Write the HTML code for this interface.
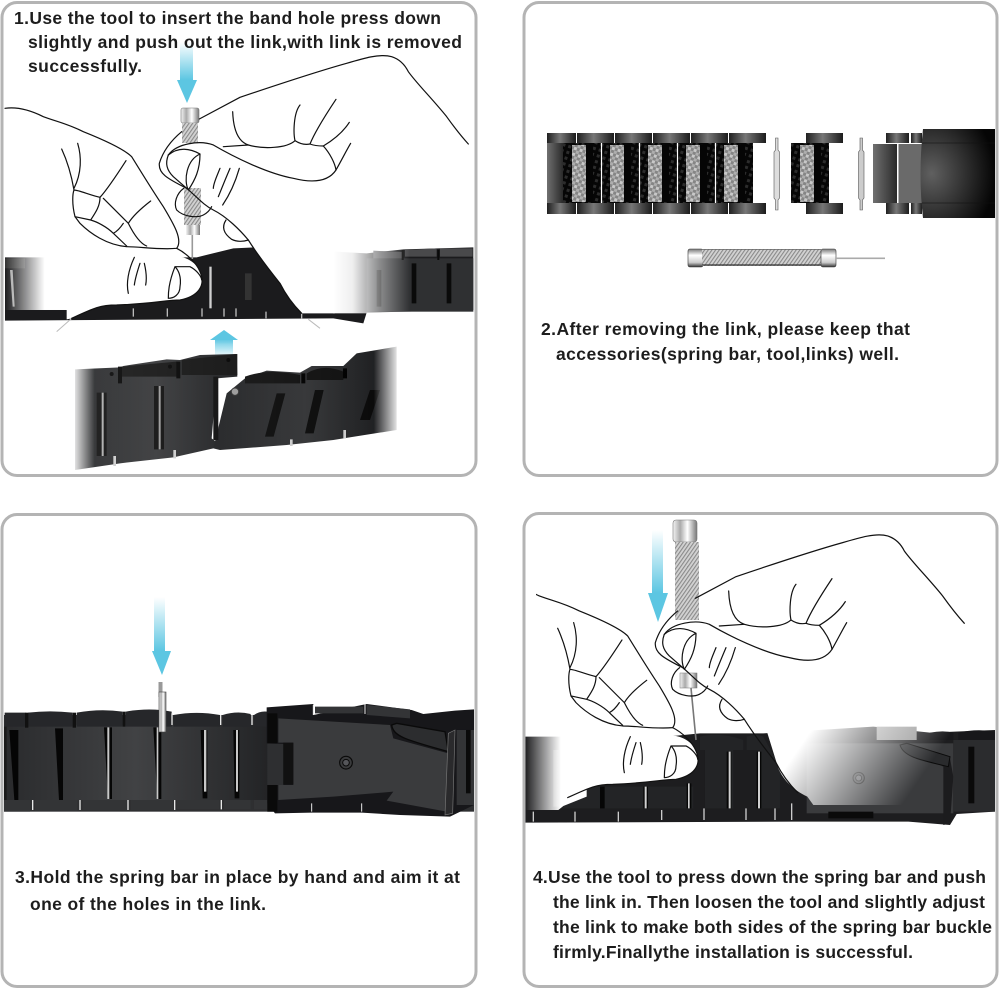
<!DOCTYPE html>
<html><head><meta charset="utf-8"><style>
html,body{margin:0;padding:0;background:#fff}
svg{display:block}
text{font-family:"Liberation Sans",Arial,sans-serif;font-size:17.5px;font-weight:bold;fill:#1d1d1d}
.h{fill:none;stroke:#111;stroke-width:3.6;stroke-linecap:round;stroke-linejoin:round}
</style></head><body>
<svg width="1000" height="990" viewBox="0 0 1000 990" xmlns="http://www.w3.org/2000/svg">
<defs>
<clipPath id="p4clip"><rect x="536" y="500" width="470" height="400"/></clipPath>
<pattern id="knurl" width="3" height="3" patternUnits="userSpaceOnUse" patternTransform="rotate(35)"><rect width="3" height="3" fill="#d2d2d2"/><rect width="1.1" height="3" fill="#8a8a8a"/></pattern>
<pattern id="chkL" width="6" height="6" patternUnits="userSpaceOnUse" patternTransform="rotate(18)"><rect width="6" height="6" fill="#858585"/><rect width="3" height="3" fill="#c8c8c8"/><rect x="3" y="3" width="3" height="3" fill="#aeaeae"/></pattern>
<pattern id="chkD" width="6" height="6" patternUnits="userSpaceOnUse" patternTransform="rotate(18)"><rect width="6" height="6" fill="#060606"/><rect width="3" height="3" fill="#2c2c2c"/></pattern>
<linearGradient id="arD" x1="0" y1="0" x2="0" y2="1"><stop offset="0" stop-color="#5cc6e2" stop-opacity="0"/><stop offset="1" stop-color="#5cc6e2"/></linearGradient>
<linearGradient id="arU" x1="0" y1="0" x2="0" y2="1"><stop offset="0" stop-color="#5cc6e2"/><stop offset="1" stop-color="#5cc6e2" stop-opacity=".1"/></linearGradient>
<linearGradient id="fadeL" x1="0" y1="0" x2="1" y2="0"><stop offset="0" stop-color="#fff" stop-opacity="0"/><stop offset=".58" stop-color="#fff"/><stop offset="1" stop-color="#fff"/></linearGradient>
<linearGradient id="fadeR" x1="0" y1="0" x2="1" y2="0"><stop offset="0" stop-color="#fff"/><stop offset=".25" stop-color="#fff" stop-opacity=".93"/><stop offset=".6" stop-color="#fff" stop-opacity=".45"/><stop offset="1" stop-color="#fff" stop-opacity="0"/></linearGradient>
<linearGradient id="fadeDiag" gradientUnits="userSpaceOnUse" x1="860" y1="680" x2="1150" y2="880"><stop offset="0" stop-color="#fff"/><stop offset="1" stop-color="#fff" stop-opacity="0"/></linearGradient>
<linearGradient id="fadeLow" x1="0" y1="0" x2="1" y2="0"><stop offset="0" stop-color="#fff"/><stop offset=".07" stop-color="#fff" stop-opacity=".1"/><stop offset=".92" stop-color="#fff" stop-opacity="0"/><stop offset="1" stop-color="#fff"/></linearGradient>
<linearGradient id="metalH" x1="0" y1="0" x2="1" y2="0"><stop offset="0" stop-color="#f4f4f4"/><stop offset=".3" stop-color="#aaa"/><stop offset=".6" stop-color="#fff"/><stop offset="1" stop-color="#777"/></linearGradient>
<linearGradient id="metalV" x1="0" y1="0" x2="0" y2="1"><stop offset="0" stop-color="#777"/><stop offset=".35" stop-color="#fff"/><stop offset=".75" stop-color="#ccc"/><stop offset="1" stop-color="#333"/></linearGradient>
<linearGradient id="gLink" x1="0" y1="0" x2="1" y2="0"><stop offset="0" stop-color="#202020"/><stop offset=".45" stop-color="#777"/><stop offset="1" stop-color="#1c1c1c"/></linearGradient>
<linearGradient id="gSide" x1="0" y1="0" x2="1" y2="0"><stop offset="0" stop-color="#707070"/><stop offset="1" stop-color="#2a2a2a"/></linearGradient>
<radialGradient id="gClasp" cx=".15" cy=".5" r=".85"><stop offset="0" stop-color="#606060"/><stop offset=".55" stop-color="#2e2e2e"/><stop offset="1" stop-color="#050505"/></radialGradient>
<linearGradient id="gBand" x1="0" y1="0" x2="1" y2="0"><stop offset="0" stop-color="#2a2b2d"/><stop offset=".5" stop-color="#414244"/><stop offset="1" stop-color="#232426"/></linearGradient>
<linearGradient id="gBandD" x1="0" y1="0" x2="1" y2="0"><stop offset="0" stop-color="#1e1f21"/><stop offset=".5" stop-color="#333436"/><stop offset="1" stop-color="#1a1b1d"/></linearGradient>

<g id="cell">
<rect width="38" height="60" fill="url(#chkD)"/>
<rect x="9" y="2" width="14" height="57" fill="url(#chkL)"/>
<rect x="23" y="2" width="7" height="57" fill="#050505"/>
</g>

<g id="hands">
<path d="M200,770 L540,770 C565,775 590,790 600,815 C620,860 590,890 540,900 C500,900 450,912 350,915 C300,915 280,925 215,955 L200,958 Z" fill="#fff"/>
<path class="h" d="M598,357 L720,292 C800,265 950,215 1040,190 C1090,175 1140,160 1175,170 C1200,178 1215,195 1225,215 C1250,250 1300,300 1340,350 C1365,385 1385,410 1405,432"/>
<path class="h" d="M698,335 C700,390 715,425 745,435 C790,448 860,445 885,422 C880,400 880,340 900,315"/>
<path class="h" d="M885,422 C900,432 915,435 930,432 C945,395 980,340 1008,298"/>
<path class="h" d="M930,432 C945,438 960,438 970,438 C1000,420 1030,395 1048,367"/>
<path class="h" d="M970,438 C990,460 1005,490 1008,510 C1025,480 1040,450 1052,430"/>
<path class="h" d="M670,440 L745,435"/>
<path class="h" d="M545,395 C515,420 490,450 478,490 C475,520 500,535 560,565 C590,590 610,615 640,630 C680,650 720,690 745,720 C770,760 800,800 840,850 C855,880 880,915 905,940"/>
<path class="h" d="M505,465 C530,430 600,420 640,435 C700,470 800,520 880,535 C940,550 985,545 1008,510"/>
<path class="h" d="M505,465 C495,490 500,510 520,530 L560,565"/>
<path class="h" d="M505,465 C535,440 570,445 600,462 C560,480 550,540 565,570 C585,540 600,510 600,462"/>
<path class="h" d="M660,505 C650,530 640,550 640,565 M690,505 C675,540 665,565 655,590 M718,505 C705,550 685,590 668,615"/>
<path class="h" d="M551,565 C530,580 520,610 530,630 C550,650 590,655 610,645 C620,640 630,630 635,620"/>
<path class="h" d="M678,660 C665,680 670,700 695,718 C710,726 730,725 745,720"/>
<path class="h" d="M15,325 C50,320 90,330 130,350 C170,365 200,370 250,395 C300,415 370,445 395,470 C420,510 450,560 490,620 C520,670 550,720 530,745 C480,750 420,740 380,740 C320,735 270,700 240,670 L225,650 C215,610 218,580 222,570 C235,570 270,585 300,592 C320,570 360,510 378,482"/>
<path class="h" d="M185,447 C205,490 215,530 222,570 M233,430 C245,470 245,520 222,565"/>
<path class="h" d="M300,592 C300,620 285,640 272,660 L225,650 M310,595 L385,670 C400,700 420,730 440,738 M385,670 C400,645 430,620 452,603 M370,670 C360,685 350,695 340,700 M272,660 C290,665 320,680 340,700 L380,738"/>
<path class="h" d="M530,745 C560,760 590,790 600,815 C620,860 590,890 540,900 C500,900 450,912 350,915 C300,915 280,925 215,955"/>
<path class="h" d="M525,800 C505,850 505,880 505,895 C520,895 540,885 540,860 C545,830 535,810 525,800 L570,800 C590,810 605,830 605,840"/>
<path class="h" d="M403,772 C385,810 378,850 385,880 M420,790 C410,820 405,840 403,855 M433,790 C440,820 440,840 437,855"/>
</g>
</defs>
<rect width="1000" height="990" fill="#fff"/>

<!-- PANEL 1 band -->
<g transform="scale(.33333)">
<path d="M15,772 L590,772 L700,745 L770,742 L1100,760 L1210,748 L1420,742 L1420,930 L1100,938 L1090,970 L1000,955 L15,962 Z" fill="#1b1b1d"/>
<rect x="1100" y="775" width="320" height="160" fill="#2f3032"/>
<path d="M1130,810h14v110h-14zM1235,790h14v120h-14zM1340,790h14v120h-14zM1205,750h6v30h-6zM1312,750h6v30h-6z" fill="#0a0a0a"/>
<path d="M1120,752L1205,756V775H1120ZM1215,750L1310,745V770H1215ZM1320,745L1418,745V770H1320Z" fill="#49494b"/>
<path d="M30,810l8,110h6l-6-110zM140,810l8,110h6l-6-110z" fill="#aaa"/>
<rect x="15" y="775" width="60" height="30" fill="#333"/>
<rect x="628" y="800" width="7" height="125" fill="#cfcfcf"/>
<path d="M735,820h20v80h-20z" fill="#333"/>
<path d="M400,925v25M502,925v25M606,925v25M672,925v25M708,925v25M798,935v20M905,935v20" stroke="#bbb" stroke-width="4"/>
<rect x="15" y="765" width="205" height="165" fill="url(#fadeL)"/>
<path d="M745,720 C770,760 800,800 840,850 C855,880 880,915 905,940 L1004,940 L1004,700 Z" fill="#fff"/>
<rect x="1000" y="700" width="230" height="240" fill="url(#fadeR)"/>
<path d="M170,995 L215,955 M925,958 L960,985" stroke="#bbb" stroke-width="3" fill="none"/>
</g>

<!-- arrows -->
<rect x="180" y="42" width="13" height="38" fill="url(#arD)"/>
<path d="M177,80H197L187,103Z" fill="#5cc6e2"/>
<rect x="215" y="339" width="18" height="17" fill="url(#arU)"/>
<path d="M210,340L224,330L238,340Z" fill="#5cc6e2"/>
<rect x="154" y="597" width="11" height="54" fill="url(#arD)"/>
<path d="M152,651H171L162,675Z" fill="#5cc6e2"/>
<rect x="652" y="530" width="11" height="63" fill="url(#arD)"/>
<path d="M648,593H668L658,622Z" fill="#5cc6e2"/>

<!-- P1 tool -->
<rect x="181" y="108" width="18" height="15" rx="2" fill="url(#metalH)" stroke="#777" stroke-width=".6"/>
<rect x="182" y="123" width="16" height="20" fill="url(#knurl)"/>
<rect x="184" y="188" width="17" height="37" fill="url(#knurl)"/>
<rect x="186" y="225" width="14" height="10" fill="url(#metalH)"/>
<rect x="191.5" y="235" width="1.6" height="24" fill="#999"/>
<use href="#hands" transform="scale(.33333)"/>

<!-- P1 lower band -->
<g transform="scale(.33333)">
<path d="M225,1108 L360,1102 L370,1098 L500,1078 L540,1080 L600,1065 L710,1062 L712,1130 L650,1135 L635,1315 L655,1330 L640,1345 L520,1372 L360,1390 L225,1410 Z" fill="url(#gBandD)"/>
<path d="M680,1180 L735,1135 L800,1112 L900,1118 L935,1098 L1030,1098 L1070,1060 L1190,1040 L1190,1290 L1030,1315 L1000,1320 L860,1335 L660,1350 L640,1345 Z" fill="url(#gBandD)"/>
<path d="M290,1178h30v190h-30zM462,1158h30v190h-30zM640,1130h15v190h-15z" fill="#0b0b0b"/>
<rect x="305" y="1178" width="6" height="190" fill="#aaa"/>
<rect x="476" y="1158" width="6" height="190" fill="#999"/>
<path d="M830,1180l26,0l-35,130h-26zM945,1170l26,0l-30,130h-26zM1110,1170l30,0l-30,90h-30z" fill="#0b0b0b"/>
<path d="M365,1100L530,1085V1130H365ZM545,1080L712,1062V1125H545ZM735,1130Q800,1105 900,1125V1150H735ZM920,1120Q970,1090 1030,1115V1140H920Z" fill="#111"/>
<path d="M360,1100v50M535,1085v50M910,1120v30M1035,1105v30" stroke="#000" stroke-width="12"/>
<circle cx="705" cy="1175" r="11" fill="#999" stroke="#333" stroke-width="3"/>
<circle cx="335" cy="1122" r="6" fill="#000"/><circle cx="510" cy="1100" r="6" fill="#000"/><circle cx="685" cy="1080" r="6" fill="#000"/>
<path d="M340,1368h8v30h-8zM520,1350h8v25h-8zM870,1318h8v20h-8zM1030,1290h8v25h-8z" fill="#ccc"/>
<rect x="215" y="1030" width="985" height="395" fill="url(#fadeLow)"/>
</g>

<!-- PANEL 2 -->
<g>
<g fill="url(#gLink)">
<rect x="547" y="133" width="29" height="10"/><rect x="577" y="133" width="37" height="10"/><rect x="615" y="133" width="37" height="10"/><rect x="653" y="133" width="37" height="10"/><rect x="691" y="133" width="37" height="10"/><rect x="729" y="133" width="37" height="10"/>
<rect x="547" y="203" width="29" height="11"/><rect x="577" y="203" width="37" height="11"/><rect x="615" y="203" width="37" height="11"/><rect x="653" y="203" width="37" height="11"/><rect x="691" y="203" width="37" height="11"/><rect x="729" y="203" width="37" height="11"/>
<rect x="806" y="133" width="37" height="10"/><rect x="806" y="203" width="37" height="11"/>
<rect x="886" y="133" width="23" height="10"/><rect x="911" y="133" width="11" height="10"/><rect x="886" y="203" width="23" height="11"/><rect x="911" y="203" width="11" height="11"/>
</g>
<rect x="547" y="143" width="16" height="60" fill="url(#gSide)"/>
<use href="#cell" x="563" y="143"/>
<use href="#cell" x="601" y="143"/>
<use href="#cell" x="639" y="143"/>
<use href="#cell" x="677" y="143"/>
<use href="#cell" x="715" y="143"/>
<use href="#cell" x="791" y="143"/>
<rect x="829" y="143" width="1" height="60" fill="#fff"/>
<path d="M601.5,143v60M639.5,143v60M677.5,143v60M715.5,143v60" stroke="#fff" stroke-width="1.2"/>
<path d="M775.5,138h2.5v12l1.5,2v46l-1.5,2v10h-2.5v-10l-1.5,-2v-46l1.5,-2z" fill="#ddd" stroke="#555" stroke-width=".6"/>
<path d="M860,138h2.5v12l1.5,2v46l-1.5,2v10h-2.5v-10l-1.5,-2v-46l1.5,-2z" fill="#ccc" stroke="#555" stroke-width=".6"/>
<rect x="873" y="144" width="24" height="59" fill="url(#gSide)"/>
<rect x="897" y="143" width="1.5" height="60" fill="#fff"/>
<rect x="898.5" y="144" width="24" height="59" fill="#6a6a6a"/>
<path d="M923,129H995V218H923Q918,175 923,129Z" fill="url(#gClasp)"/>
<path d="M922,143H995M922,203H995" stroke="#111" stroke-width=".8" opacity=".7"/>
<rect x="688" y="249" width="15" height="18" rx="2" fill="url(#metalV)" stroke="#333" stroke-width=".6"/>
<rect x="702" y="249" width="119" height="17" fill="url(#knurl)"/>
<path d="M702,265h119" stroke="#333" stroke-width="1.2"/><path d="M702,249.5h119" stroke="#666" stroke-width=".8"/>
<rect x="821" y="249" width="15" height="18" rx="2" fill="url(#metalV)" stroke="#333" stroke-width=".6"/>
<rect x="836" y="257.5" width="49" height="1.6" fill="#aaa"/>
</g>

<!-- PANEL 3 band -->
<g transform="translate(0,590) scale(.33333)">
<rect x="12" y="375" width="1410" height="290" fill="#2e2f31"/>
<rect x="12" y="405" width="790" height="225" fill="url(#gBand)"/>
<path d="M14,368H78V410H14ZM84,368Q150,360 218,368V410H84ZM230,368Q300,355 368,365V410H230ZM376,365Q450,352 515,365V410H376ZM520,375Q590,362 660,375V410H520ZM668,375Q710,362 752,372V410H668ZM762,375Q780,362 802,365V410H762Z" fill="#26272a"/>
<path d="M12,630H90V665H12ZM105,630H232V662H105ZM248,630H380V660H248ZM392,630H520V660H392ZM530,630H658V658H530ZM672,630H752V658H672ZM762,630H802V658H762Z" fill="#333436"/>
<path d="M12,410H20V630H12Z" fill="#1a1a1a"/>
<path d="M25,420h30v210h-12l-15-210z" fill="#050505"/>
<path d="M165,415h24v215h-12zM312,412h24v215h-12zM460,412h24v215h-12zM602,420h20v205h-14zM700,420h18v205h-14z" fill="#060606"/>
<path d="M322,412h6v215h-6zM470,412h5v215h-5zM612,420h7v185h-7zM708,420h6v185h-6z" fill="#c8c8c8"/>
<path d="M78,368v40M222,368v40M372,365v40M516,370v35M662,375v30M756,375v30M98,630v30M240,630v30M384,630v30M524,630v30M664,630v28" stroke="#e8e8e8" stroke-width="4"/>
<rect x="75" y="368" width="10" height="45" fill="#111"/><rect x="218" y="368" width="10" height="45" fill="#111"/><rect x="368" y="365" width="8" height="45" fill="#111"/>
<path d="M800,352L940,342V375L1100,342L1235,360L1270,372L1365,362L1422,358V645L1350,680L1200,675L1085,668H935L825,670L802,640V585L850,585V462L800,460Z" fill="#17171a"/>
<path d="M835,385 L1170,405 L1180,445 L1345,490 L1340,665 L1160,632 L1180,605 L1000,620 L835,630 L835,585 L880,585 L880,458 L835,458 Z" fill="#3a3b3d"/>
<path d="M1175,405 C1180,440 1220,450 1345,485 L1335,425 L1190,400 Z" fill="#2c2d2f" stroke="#0a0a0a" stroke-width="4"/>
<path d="M945,350H1090V370H945ZM1100,345L1230,358V385L1100,375Z" fill="#333436"/>
<path d="M940,345v30M1095,342v30M935,640v25M1085,640v25" stroke="#e8e8e8" stroke-width="3"/>
<rect x="802" y="370" width="30" height="90" fill="#0a0a0a"/><rect x="802" y="585" width="30" height="80" fill="#0a0a0a"/>
<rect x="850" y="458" width="30" height="125" fill="#111"/>
<path d="M1345,430 L1365,420 L1358,670 L1335,675Z" fill="#2a2a2c" stroke="#777" stroke-width="2"/>
<rect x="1370" y="420" width="52" height="225" fill="#333436"/><rect x="1398" y="420" width="14" height="190" fill="#0a0a0a"/>
<circle cx="1038" cy="518" r="19" fill="none" stroke="#0a0a0a" stroke-width="3.5"/><circle cx="1038" cy="518" r="10" fill="#55565a" stroke="#0a0a0a" stroke-width="3"/>
</g>
<rect x="158.5" y="682" width="4" height="15" fill="#999"/>
<rect x="159" y="692" width="7" height="40" fill="url(#metalH)" stroke="#444" stroke-width=".6"/>

<!-- PANEL 4 band -->
<g transform="translate(520,510) scale(.33333)">
<path d="M15,680 L440,680 L540,670 L730,670 L1060,650 L1230,668 L1425,660 L1425,905 L1310,912 L1290,945 L1165,935 L815,935 L15,938 Z" fill="#1d1d1f"/>
<path d="M540,680Q600,665 670,690V720H640V895H555V720H540ZM680,680Q710,670 730,680L780,770V895H720V720H680ZM120,830H520V895H120Z" fill="#232426"/>
<path d="M620,725h14v170h-14zM710,725h14v170h-14zM500,820h14v75h-14zM370,830h14v65h-14zM240,830h14v65h-14z" fill="#060606"/>
<path d="M626,725h6v170h-6zM714,725h6v170h-6zM504,820h5v75h-5zM374,830h6v65h-6z" fill="#d0d0d0"/>
<path d="M40,905v30M165,905v30M295,905v30M425,900v30M552,895v35M678,895v35M765,895v35M815,880v50" stroke="#ccc" stroke-width="4"/>
<rect x="860" y="700" width="440" height="210" fill="#3a3b3d"/>
<path d="M1140,705L1290,745L1300,800L1290,940L1270,945L1270,770Z" fill="#1c1c1e" />
<path d="M1140,705 C1150,740 1200,750 1285,770 L1290,740 L1160,700Z" fill="#2a2b2d" stroke="#0a0a0a" stroke-width="3"/>
<rect x="925" y="905" width="135" height="20" fill="#0a0a0a"/>
<rect x="1300" y="690" width="125" height="215" fill="#2b2c2e"/><rect x="1345" y="710" width="18" height="170" fill="#0a0a0a"/>
<path d="M1230,668Q1270,660 1300,668V690H1230ZM1315,668Q1370,655 1425,665V690H1315Z" fill="#17171a"/>
<rect x="1070" y="650" width="120" height="40" fill="#999"/>
<circle cx="1016" cy="804" r="17" fill="none" stroke="#0a0a0a" stroke-width="3"/><circle cx="1016" cy="804" r="9" fill="#55565a" stroke="#0a0a0a" stroke-width="2.5"/>
<path d="M100,720h16v170h-16z" fill="#555"/>
<path d="M15,660H200V860L130,888L115,900H15Z" fill="url(#fadeL)"/>
<path d="M730,630 L775,775 C790,810 820,840 862,860 L880,885 L1290,885 L1290,640 Z" fill="url(#fadeDiag)"/>
</g>

<!-- P4 tool -->
<rect x="673" y="520" width="24" height="22" rx="3" fill="url(#metalH)" stroke="#777" stroke-width=".6"/>
<rect x="675" y="542" width="24" height="78" fill="url(#knurl)"/>
<rect x="680" y="673" width="17" height="15" fill="url(#metalH)" stroke="#777" stroke-width=".5"/>
<path d="M691,688L696,740" stroke="#777" stroke-width="1.6"/>
<g clip-path="url(#p4clip)"><use href="#hands" transform="translate(496,479.3) scale(.33333)"/></g>

<!-- panel borders -->
<g fill="none" stroke="#b4b4b4" stroke-width="3">
<rect x="2" y="2.5" width="474" height="473" rx="15"/>
<rect x="524" y="2.5" width="473" height="473" rx="15"/>
<rect x="2" y="514.5" width="474" height="472" rx="15"/>
<rect x="524" y="513.5" width="473" height="473" rx="15"/>
</g>

<!-- text -->
<text x="14" y="24" textLength="427" lengthAdjust="spacing">1.Use the tool to insert the band hole press down</text>
<text x="28" y="48" textLength="434" lengthAdjust="spacing">slightly and push out the link,with link is removed</text>
<text x="28" y="72" textLength="114" lengthAdjust="spacing">successfully.</text>
<text x="541" y="335" textLength="369" lengthAdjust="spacing">2.After removing the link, please keep that</text>
<text x="556" y="360" textLength="343" lengthAdjust="spacing">accessories(spring bar, tool,links) well.</text>
<text x="15" y="883" textLength="445" lengthAdjust="spacing">3.Hold the spring bar in place by hand and aim it at</text>
<text x="30" y="910" textLength="236" lengthAdjust="spacing">one of the holes in the link.</text>
<text x="533" y="883" textLength="453" lengthAdjust="spacing">4.Use the tool to press down the spring bar and push</text>
<text x="553" y="908" textLength="432" lengthAdjust="spacing">the link in. Then loosen the tool and slightly adjust</text>
<text x="553" y="933" textLength="439" lengthAdjust="spacing">the link to make both sides of the spring bar buckle</text>
<text x="553" y="958" textLength="360" lengthAdjust="spacing">firmly.Finallythe installation is successful.</text>
</svg>
</body></html>
